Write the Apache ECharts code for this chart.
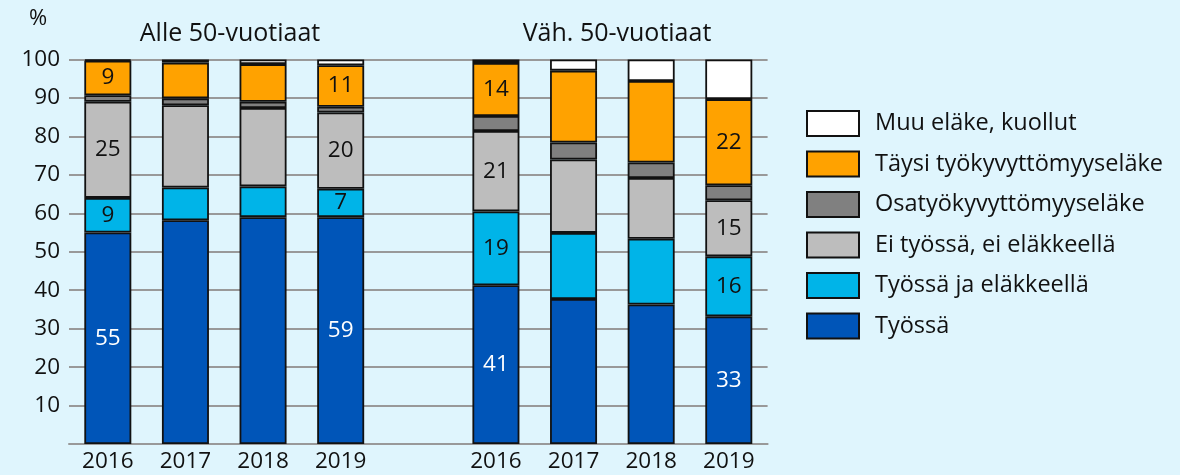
<!DOCTYPE html>
<html>
<head>
<meta charset="utf-8">
<script src="https://cdn.jsdelivr.net/npm/echarts@6/dist/echarts.min.js"></script>
<style>
  html, body { margin: 0; padding: 0; background: #dff5fd; }
  #main { width: 1180px; height: 475px; }
</style>
</head>
<body>
<div id="main"></div>
<script>
  // categories: two groups of years, an empty slot between them
  var years = ['2016', '2017', '2018', '2019', '', '2016', '2017', '2018', '2019'];
  var groupTitles = ['Alle 50-vuotiaat', 'Väh. 50-vuotiaat'];
  var yTicks = [10, 20, 30, 40, 50, 60, 70, 80, 90, 100];

  // values, %
  var tyossa         = [55.0, 58.2, 59.0, 59.0, '-', 41.3, 37.7, 36.3, 33.2];
  var tyossaElak     = [9.0, 8.5, 8.0, 7.4, '-', 19.2, 17.2, 17.1, 15.6];
  var eiTyossa       = [25.0, 21.4, 20.4, 19.8, '-', 20.9, 19.1, 15.8, 14.6];
  var osaTyokyvytt   = [1.7, 1.8, 1.6, 1.5, '-', 3.9, 4.4, 4.0, 3.9];
  var taysiTyokyvytt = [9.0, 9.3, 9.8, 10.8, '-', 13.8, 18.7, 21.2, 22.4];
  var muuElake       = [0.3, 0.8, 1.2, 1.5, '-', 0.9, 2.9, 5.6, 10.3];

  // printed labels
  var tyossaLbl   = [55, '', '', 59, '', 41, '', '', 33];
  var tyossaElLbl = [9, '', '', 7, '', 19, '', '', 16];
  var eiTyossaLbl = [25, '', '', 20, '', 21, '', '', 15];
  var taysiLbl    = [9, '', '', 11, '', 14, '', '', 22];

  var chart = echarts.init(document.getElementById('main'));
  var font = 'Open Sans';

  function mk(name, data, color, labels, labelColor) {
    return {
      name: name,
      type: 'bar',
      stack: 'a',
      barWidth: 47,
      data: data,
      itemStyle: { color: color, borderColor: '#111', borderWidth: 1.8 },
      label: {
        show: !!labels,
        position: 'inside',
        fontFamily: font,
        fontSize: 22.5,
        color: labelColor || '#111',
        formatter: function (p) { return labels ? String(labels[p.dataIndex]) : ''; }
      },
      emphasis: { disabled: true }
    };
  }

  var option = {
    backgroundColor: '#dff5fd',
    animation: false,
    textStyle: { fontFamily: font },
    title: [
      { text: '%', left: 24, top: 3, textStyle: { fontFamily: font, fontSize: 22, fontWeight: 'normal', color: '#111' } },
      { text: groupTitles[0], left: 225, top: 16, textAlign: 'center', textStyle: { fontFamily: font, fontSize: 25, fontWeight: 'normal', color: '#111' } },
      { text: groupTitles[1], left: 612, top: 16, textAlign: 'center', textStyle: { fontFamily: font, fontSize: 25, fontWeight: 'normal', color: '#111' } }
    ],
    legend: {
      orient: 'vertical',
      left: 806,
      top: 110,
      padding: 0,
      itemWidth: 52,
      itemHeight: 25,
      itemGap: 13.5,
      icon: 'rect',
      data: ['Muu eläke, kuollut', 'Täysi työkyvyttömyyseläke', 'Osatyökyvyttömyyseläke',
             'Ei työssä, ei eläkkeellä', 'Työssä ja eläkkeellä', 'Työssä'],
      textStyle: { fontFamily: font, fontSize: 23.5, color: '#111', padding: [0, 0, 0, 11] }
    },
    grid: { left: 69, top: 59.5, width: 698.6, height: 384.5 },
    xAxis: {
      type: 'category',
      data: years,
      axisTick: { show: false },
      axisLine: { lineStyle: { color: '#999', width: 2 } },
      axisLabel: { fontFamily: font, fontSize: 22.5, color: '#111', margin: 6 }
    },
    yAxis: {
      type: 'value',
      min: 0,
      max: 100,
      interval: 10,
      axisLine: { show: false },
      axisTick: { show: false },
      splitLine: { lineStyle: { color: '#999', width: 2 } },
      axisLabel: {
        fontFamily: font, fontSize: 22.5, color: '#111', margin: 9,
        formatter: function (v) { return yTicks.indexOf(v) >= 0 ? String(v) : ''; }
      }
    },
    series: [
      mk('Työssä', tyossa, '#0055b8', tyossaLbl, '#fff'),
      mk('Työssä ja eläkkeellä', tyossaElak, '#00b4e8', tyossaElLbl),
      mk('Ei työssä, ei eläkkeellä', eiTyossa, '#bdbdbd', eiTyossaLbl),
      mk('Osatyökyvyttömyyseläke', osaTyokyvytt, '#808080', null),
      mk('Täysi työkyvyttömyyseläke', taysiTyokyvytt, '#ffa200', taysiLbl),
      mk('Muu eläke, kuollut', muuElake, '#ffffff', null)
    ]
  };

  chart.setOption(option);
</script>
</body>
</html>
